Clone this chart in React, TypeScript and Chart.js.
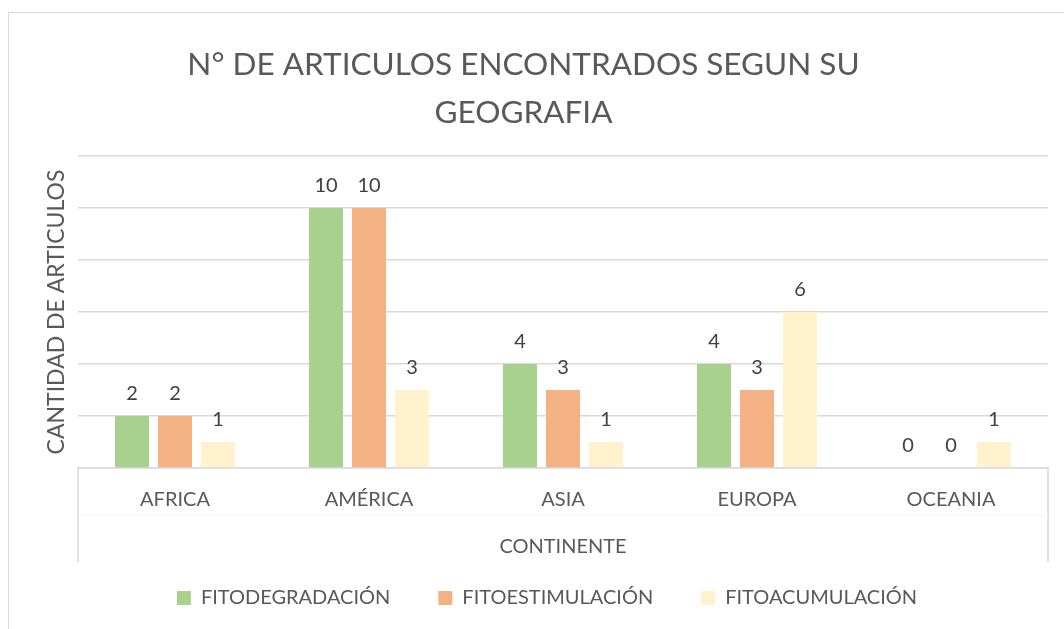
import React, { useEffect, useRef } from "react";
import { Chart, registerables } from "chart.js";

Chart.register(...registerables);

const TITLE_LINES = ["N° DE ARTICULOS ENCONTRADOS SEGUN SU", "GEOGRAFIA"];
const CATEGORIES = ["AFRICA", "AMÉRICA", "ASIA", "EUROPA", "OCEANIA"];
const SERIES_NAMES = ["FITODEGRADACIÓN", "FITOESTIMULACIÓN", "FITOACUMULACIÓN"];
const FITODEGRADACION = [2, 10, 4, 4, 0];
const FITOESTIMULACION = [2, 10, 3, 3, 0];
const FITOACUMULACION = [1, 3, 1, 6, 1];
const SERIES_COLORS = ["#A9D18E", "#F4B183", "#FFF2CC"];
const X_TITLE = "CONTINENTE";
const Y_TITLE = "CANTIDAD DE ARTICULOS";
const Y_MIN = 0;
const Y_MAX = 12;
const Y_STEP = 2;

const FONT = "Lato, 'Open Sans', sans-serif";
const TEXT_COLOR = "#595959";
const LABEL_COLOR = "#404040";
const LINE_COLOR = "#D9D9D9";

const framePlugin = {
  id: "frame",
  beforeDraw(chart: any) {
    const { ctx, chartArea } = chart;
    ctx.save();
    ctx.fillStyle = "#ffffff";
    ctx.fillRect(0, 0, chart.width, chart.height);
    ctx.strokeStyle = LINE_COLOR;
    ctx.lineWidth = 1;
    ctx.beginPath();
    ctx.moveTo(8.5, chart.height + 5);
    ctx.lineTo(8.5, 12.5);
    ctx.lineTo(chart.width + 5, 12.5);
    ctx.stroke();
    ctx.lineWidth = 1.5;
    ctx.beginPath();
    ctx.moveTo(chartArea.left, chartArea.bottom);
    ctx.lineTo(chartArea.left, 562);
    ctx.moveTo(chartArea.right, chartArea.bottom);
    ctx.lineTo(chartArea.right, 562);
    ctx.stroke();
    ctx.strokeStyle = "#F4F4F4";
    ctx.lineWidth = 1;
    ctx.beginPath();
    ctx.moveTo(chartArea.left, 515.5);
    ctx.lineTo(chartArea.right, 515.5);
    ctx.stroke();
    ctx.restore();
  },
  afterDraw(chart: any) {
    const { ctx } = chart;
    ctx.save();
    ctx.fillStyle = TEXT_COLOR;
    ctx.font = `31.5px ${FONT}`;
    ctx.textAlign = "center";
    ctx.textBaseline = "alphabetic";
    const baselines = [75, 123];
    TITLE_LINES.forEach((line, i) => ctx.fillText(line, 523.5, baselines[i]));
    ctx.restore();
  },
};

const dataLabelPlugin = {
  id: "dataLabels",
  afterDatasetsDraw(chart: any) {
    const { ctx } = chart;
    ctx.save();
    ctx.fillStyle = LABEL_COLOR;
    ctx.font = `20px ${FONT}`;
    ctx.textAlign = "center";
    ctx.textBaseline = "alphabetic";
    chart.data.datasets.forEach((ds: any, di: number) => {
      const meta = chart.getDatasetMeta(di);
      meta.data.forEach((el: any, i: number) => {
        ctx.fillText(String(ds.data[i]), el.x, el.y - 16);
      });
    });
    ctx.restore();
  },
};

export default function App() {
  const canvasRef = useRef<HTMLCanvasElement | null>(null);

  useEffect(() => {
    if (!canvasRef.current) return;
    const seriesData = [FITODEGRADACION, FITOESTIMULACION, FITOACUMULACION];
    const chart = new Chart(canvasRef.current, {
      type: "bar",
      data: {
        labels: CATEGORIES,
        datasets: SERIES_NAMES.map((name, i) => ({
          label: name,
          data: seriesData[i],
          backgroundColor: SERIES_COLORS[i],
          borderWidth: 0,
          categoryPercentage: 0.665,
          barPercentage: 0.79,
        })),
      },
      options: {
        responsive: false,
        animation: false,
        devicePixelRatio: 1,
        layout: { padding: { left: 46, right: 16, top: 156, bottom: 11 } },
        plugins: {
          title: { display: false },
          tooltip: { enabled: false },
          legend: {
            display: true,
            position: "bottom",
            labels: {
              boxWidth: 14,
              boxHeight: 14,
              padding: 48,
              color: TEXT_COLOR,
              font: { family: FONT, size: 20 },
            },
          },
        },
        scales: {
          x: {
            grid: { display: false, drawTicks: false },
            border: { display: true, color: LINE_COLOR, width: 1.5 },
            ticks: {
              color: TEXT_COLOR,
              font: { family: FONT, size: 20 },
              padding: 20,
              maxRotation: 0,
            },
            title: {
              display: true,
              text: X_TITLE,
              color: TEXT_COLOR,
              font: { family: FONT, size: 20 },
              padding: { top: 0, bottom: -19 },
            },
            afterFit: (scale: any) => {
              scale.height = 72;
            },
          },
          y: {
            min: Y_MIN,
            max: Y_MAX,
            ticks: { display: false, stepSize: Y_STEP },
            grid: { color: LINE_COLOR, lineWidth: 1.5, drawTicks: false },
            border: { display: false },
            title: {
              display: true,
              text: Y_TITLE,
              color: TEXT_COLOR,
              font: { family: FONT, size: 23 },
              padding: { top: -3, bottom: 0 },
            },
            afterFit: (scale: any) => {
              scale.width = 32;
            },
          },
        },
      },
      plugins: [framePlugin, dataLabelPlugin],
    });
    return () => chart.destroy();
  }, []);

  return (
    <canvas
      ref={canvasRef}
      width={1064}
      height={629}
      style={{ position: "fixed", left: 0, top: 0, width: 1064, height: 629 }}
    />
  );
}
